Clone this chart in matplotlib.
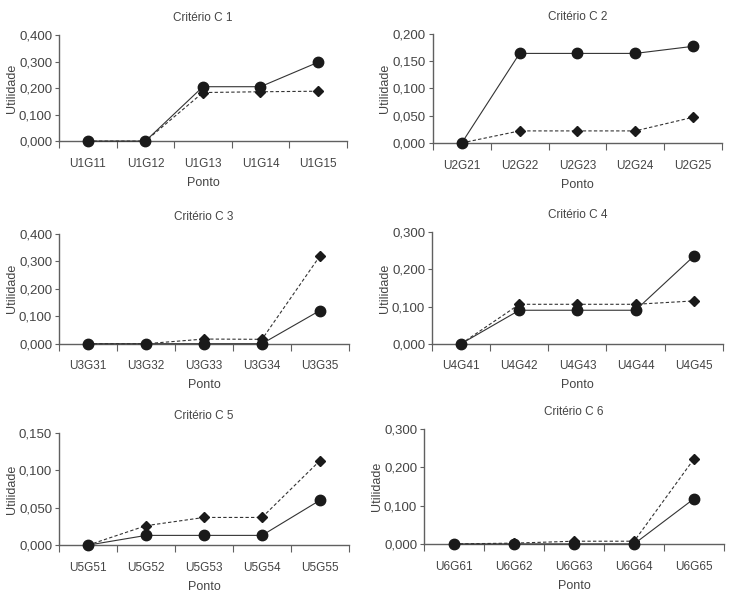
import matplotlib
matplotlib.use("Agg")
import matplotlib.pyplot as plt
from matplotlib.ticker import FuncFormatter, FixedLocator, NullFormatter

plt.rcParams['font.family'] = ['Liberation Sans', 'DejaVu Sans']

# Dados (círculo = linha sólida, losango = linha tracejada)
titulos = ['Critério C 1', 'Critério C 2', 'Critério C 3',
           'Critério C 4', 'Critério C 5', 'Critério C 6']

pontos_c1 = ['U1G11', 'U1G12', 'U1G13', 'U1G14', 'U1G15']
pontos_c2 = ['U2G21', 'U2G22', 'U2G23', 'U2G24', 'U2G25']
pontos_c3 = ['U3G31', 'U3G32', 'U3G33', 'U3G34', 'U3G35']
pontos_c4 = ['U4G41', 'U4G42', 'U4G43', 'U4G44', 'U4G45']
pontos_c5 = ['U5G51', 'U5G52', 'U5G53', 'U5G54', 'U5G55']
pontos_c6 = ['U6G61', 'U6G62', 'U6G63', 'U6G64', 'U6G65']

circ_c1 = [0.0, 0.0, 0.205, 0.205, 0.297]
losa_c1 = [0.0, 0.0, 0.183, 0.186, 0.188]
circ_c2 = [0.0, 0.164, 0.164, 0.164, 0.177]
losa_c2 = [0.0, 0.022, 0.022, 0.022, 0.047]
circ_c3 = [0.0, 0.0, 0.0, 0.0, 0.121]
losa_c3 = [0.0, 0.0, 0.017, 0.016, 0.320]
circ_c4 = [0.0, 0.090, 0.090, 0.090, 0.235]
losa_c4 = [0.0, 0.106, 0.106, 0.106, 0.115]
circ_c5 = [0.0, 0.013, 0.013, 0.013, 0.060]
losa_c5 = [0.0, 0.026, 0.037, 0.037, 0.113]
circ_c6 = [0.0, 0.0, 0.0, 0.0, 0.118]
losa_c6 = [0.0, 0.002, 0.007, 0.007, 0.222]

ymax = [0.4, 0.2, 0.4, 0.3, 0.15, 0.3]
ypasso = [0.1, 0.05, 0.1, 0.1, 0.05, 0.1]

# posições dos eixos [esq, baixo, largura, altura]
posicoes = [
    [0.081, 0.766, 0.394, 0.176],
    [0.593, 0.763, 0.396, 0.181],
    [0.081, 0.430, 0.397, 0.182],
    [0.592, 0.430, 0.398, 0.185],
    [0.081, 0.096, 0.397, 0.186],
    [0.581, 0.098, 0.411, 0.191],
]

pontos = [pontos_c1, pontos_c2, pontos_c3, pontos_c4, pontos_c5, pontos_c6]
circulos = [circ_c1, circ_c2, circ_c3, circ_c4, circ_c5, circ_c6]
losangos = [losa_c1, losa_c2, losa_c3, losa_c4, losa_c5, losa_c6]

cor_texto = '#444444'
cor_eixo = '#606060'

fig = plt.figure(figsize=(7.3, 6.03), dpi=100)

fmt = FuncFormatter(lambda v, p: ('%.3f' % v).replace('.', ','))

for i in range(6):
    ax = fig.add_axes(posicoes[i])
    x = list(range(len(pontos[i])))
    ax.plot(x, losangos[i], linestyle=(0, (3, 2)), color='#333333', linewidth=0.8,
            marker='D', markersize=5, markerfacecolor='#1a1a1a', markeredgecolor='#1a1a1a', zorder=3)
    ax.plot(x, circulos[i], linestyle='-', color='#333333', linewidth=0.8,
            marker='o', markersize=7.5, markerfacecolor='#1a1a1a', markeredgecolor='#1a1a1a', zorder=4)

    ax.set_xlim(-0.5, len(x) - 0.5)
    ax.set_ylim(0, ymax[i])
    n = int(round(ymax[i] / ypasso[i]))
    ax.set_yticks([k * ypasso[i] for k in range(n + 1)])
    ax.yaxis.set_major_formatter(fmt)

    # marcas do eixo x entre categorias, rótulos no centro
    ax.xaxis.set_major_locator(FixedLocator([k - 0.5 for k in range(len(x) + 1)]))
    ax.xaxis.set_major_formatter(NullFormatter())
    ax.xaxis.set_minor_locator(FixedLocator(x))
    ax.set_xticklabels(pontos[i], minor=True)
    ax.tick_params(axis='x', which='minor', length=0, pad=12, labelsize=8.5, labelcolor=cor_texto)
    ax.tick_params(axis='x', which='major', length=5, color=cor_eixo, direction='out')
    ax.tick_params(axis='y', length=3, pad=2, color=cor_eixo, labelsize=9.5, labelcolor=cor_texto)

    for lado in ['top', 'right']:
        ax.spines[lado].set_visible(False)
    for lado in ['left', 'bottom']:
        ax.spines[lado].set_color(cor_eixo)
        ax.spines[lado].set_linewidth(1.0)

    ax.set_title(titulos[i], fontsize=8.5, color=cor_texto, pad=10)
    ax.set_xlabel('Ponto', fontsize=9, color=cor_texto, labelpad=5)
    ax.set_ylabel('Utilidade', fontsize=9, color=cor_texto, labelpad=1)
    for ln in ax.lines:
        ln.set_clip_on(False)

fig.savefig('out.png', dpi=100)
